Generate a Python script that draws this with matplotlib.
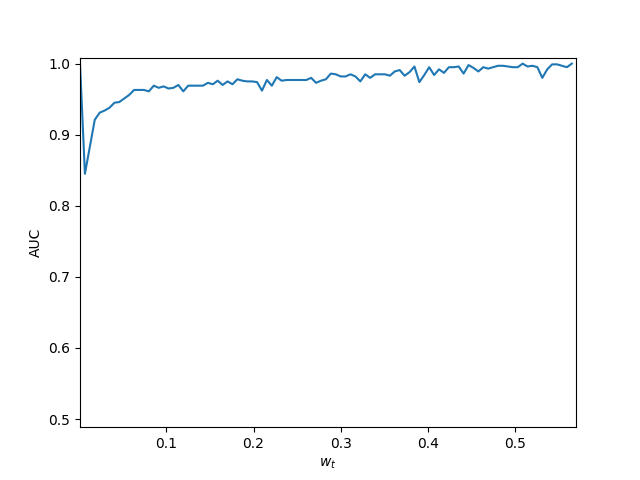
import matplotlib
matplotlib.use("Agg")
import matplotlib.pyplot as plt
import numpy as np

# weight values on the x axis
w_t = np.linspace(0.001, 0.565, 101)

# AUC
auc = [1.0, 0.845, 0.883, 0.921, 0.931, 0.934, 0.938, 0.945, 0.946, 0.951,
       0.956, 0.963, 0.963, 0.963, 0.961, 0.969, 0.966, 0.968, 0.965, 0.966,
       0.970, 0.961, 0.969, 0.969, 0.969, 0.969, 0.973, 0.971, 0.976, 0.970,
       0.975, 0.971, 0.978, 0.976, 0.975, 0.975, 0.974, 0.962, 0.977, 0.969,
       0.981, 0.976, 0.977, 0.977, 0.977, 0.977, 0.977, 0.980, 0.973, 0.976,
       0.978, 0.986, 0.985, 0.982, 0.982, 0.985, 0.982, 0.975, 0.985, 0.980,
       0.985, 0.985, 0.985, 0.983, 0.989, 0.991, 0.983, 0.988, 0.996, 0.974,
       0.984, 0.995, 0.984, 0.992, 0.987, 0.995, 0.995, 0.996, 0.986, 0.998,
       0.994, 0.989, 0.995, 0.993, 0.995, 0.997, 0.997, 0.996, 0.995, 0.995,
       1.0, 0.996, 0.997, 0.995, 0.980, 0.992, 0.999, 0.999, 0.997, 0.995,
       1.0]

fig, ax = plt.subplots(figsize=(6.4, 4.8), dpi=100)
ax.plot(w_t, auc)
ax.set_xlim(0.001, 0.5698)
ax.set_ylim(0.4885, 1.0085)
ax.set_xlabel("$w_t$")
ax.set_ylabel("AUC")

fig.savefig("out.png")
